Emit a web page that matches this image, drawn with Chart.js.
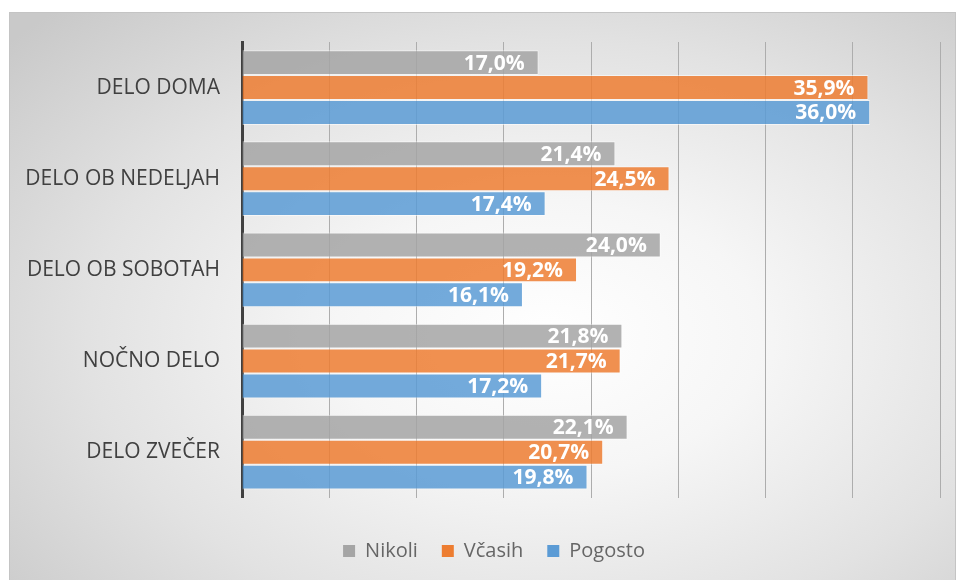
<!DOCTYPE html>
<html>
<head>
<meta charset="utf-8">
<script src="https://cdn.jsdelivr.net/npm/chart.js@4"></script>
<style>
    html, body { margin: 0; padding: 0; background: #fff; overflow: hidden; }
    #box {
        position: absolute; left: 9px; top: 12px;
        width: 947px; height: 570px; box-sizing: border-box;
        border: 1px solid #c4c4c4; overflow: hidden;
        background: radial-gradient(ellipse 75% 80% at 57% 57%, #ffffff 0%, #f6f6f6 30%, #e2e2e2 65%, #c9c9c9 100%);
    }
    #chart { position: absolute; left: 0; top: 0; }
</style>
</head>
<body>
<div id="box"><canvas id="chart" width="945" height="566"></canvas></div>
<script>
    const categories = ['DELO DOMA', 'DELO OB NEDELJAH', 'DELO OB SOBOTAH', 'NOČNO DELO', 'DELO ZVEČER'];
    const seriesNames = ['Nikoli', 'Včasih', 'Pogosto'];
    const nikoli = [17.0, 21.4, 24.0, 21.8, 22.1];
    const vcasih = [35.9, 24.5, 19.2, 21.7, 20.7];
    const pogosto = [36.0, 17.4, 16.1, 17.2, 19.8];
    const colors = ['rgba(165,165,165,0.85)', 'rgba(237,125,49,0.85)', 'rgba(91,155,213,0.85)'];
    const legendColors = ['#a5a5a5', '#ed7d31', '#5b9bd5'];

    const fontFamily = '"Open Sans", "DejaVu Sans", sans-serif';

    // white value labels at the inside end of each bar
    const valueLabels = {
        id: 'valueLabels',
        afterDatasetsDraw(chart) {
            const ctx = chart.ctx;
            ctx.save();
            ctx.font = 'bold 21px ' + fontFamily;
            ctx.fillStyle = '#ffffff';
            ctx.textAlign = 'right';
            ctx.textBaseline = 'middle';
            chart.data.datasets.forEach((ds, i) => {
                const meta = chart.getDatasetMeta(i);
                meta.data.forEach((bar, j) => {
                    const {x, y} = bar.getProps(['x', 'y'], true);
                    const text = ds.data[j].toFixed(1).replace('.', ',') + '%';
                    ctx.fillText(text, x - 14, y + 1);
                });
            });
            ctx.restore();
        }
    };

    // legend sits a bit right of the canvas centre in the original
    const legendShift = {
        id: 'legendShift',
        afterLayout(chart) {
            chart.legend.left += 19;
            chart.legend.right += 19;
        }
    };

    const data = [nikoli, vcasih, pogosto];

    new Chart(document.getElementById('chart'), {
        type: 'bar',
        data: {
            labels: categories,
            datasets: seriesNames.map((name, i) => ({
                label: name,
                data: data[i],
                backgroundColor: colors[i],
                borderColor: 'rgba(255,255,255,0.55)',
                borderWidth: 1,
                categoryPercentage: 0.82,
                barPercentage: 1
            }))
        },
        options: {
            indexAxis: 'y',
            responsive: false,
            animation: false,
            layout: {padding: {top: 29, right: 15, bottom: 8, left: 0}},
            scales: {
                x: {
                    min: 0,
                    max: 40,
                    ticks: {display: false, stepSize: 5},
                    grid: {color: '#adadad', lineWidth: 1, drawTicks: false},
                    border: {display: false}
                },
                y: {
                    grid: {display: false, drawTicks: false},
                    border: {color: '#404040', width: 3},
                    ticks: {
                        color: '#404040',
                        font: {family: fontFamily, size: 21},
                        padding: 22
                    },
                    afterFit(scale) {
                        scale.width = 232;
                        scale.paddingTop = 0;
                        scale.paddingBottom = 0;
                    }
                }
            },
            plugins: {
                legend: {
                    position: 'bottom',
                    title: {display: true, text: '', font: {size: 1}, padding: {top: 18, bottom: 0}},
                    labels: {
                        color: '#404040',
                        font: {family: fontFamily, size: 20},
                        boxWidth: 12,
                        boxHeight: 12,
                        padding: 24,
                        generateLabels(chart) {
                            return seriesNames.map((name, i) => ({
                                text: name,
                                fillStyle: legendColors[i],
                                strokeStyle: legendColors[i],
                                lineWidth: 0,
                                datasetIndex: i
                            }));
                        }
                    }
                },
                tooltip: {enabled: false}
            }
        },
        plugins: [valueLabels, legendShift]
    });
</script>
</body>
</html>
